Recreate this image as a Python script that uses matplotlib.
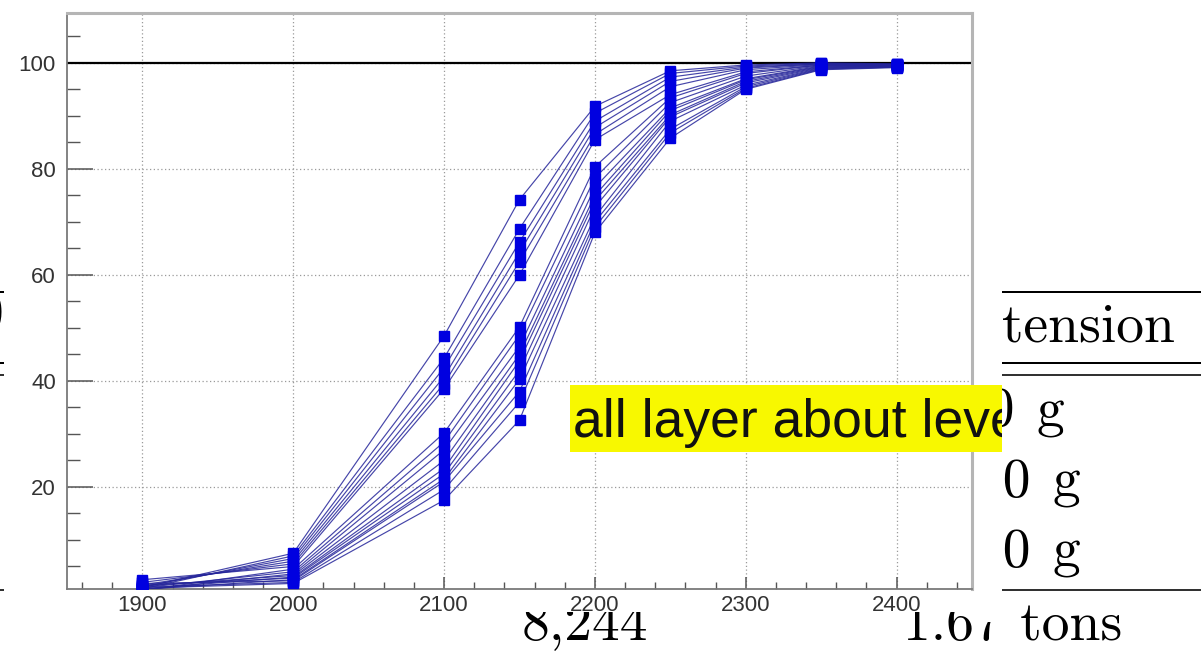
import matplotlib
matplotlib.use("Agg")
import matplotlib.pyplot as plt
from matplotlib.patches import Rectangle
from matplotlib.ticker import MultipleLocator, FixedLocator

plt.rcParams["font.family"] = ["Liberation Sans", "DejaVu Sans"]

# ---------------- data ----------------
voltages = [1900, 2000, 2100, 2150, 2200, 2250, 2300, 2350, 2400]

u1 = [1.0, 7.5, 48.5, 74.2, 91.8, 98.5, 99.6, 100.0, 99.8]
u2 = [0.8, 7.0, 44.3, 68.7, 90.5, 98.0, 99.4, 99.9, 99.7]
u3 = [1.2, 6.5, 42.5, 66.2, 89.0, 97.3, 99.2, 99.8, 99.7]
u4 = [1.5, 6.0, 40.8, 64.3, 87.8, 96.5, 99.0, 99.8, 99.6]
u5 = [2.0, 5.5, 39.5, 62.5, 86.5, 95.5, 98.7, 99.7, 99.6]
u6 = [2.5, 5.0, 38.5, 60.0, 85.5, 94.0, 98.3, 99.6, 99.5]
l1 = [0.5, 4.5, 30.2, 50.2, 80.4, 93.4, 98.0, 99.6, 99.6]
l2 = [1.0, 4.0, 28.5, 48.7, 78.3, 92.5, 97.5, 99.5, 99.5]
l3 = [0.6, 3.6, 27.0, 46.5, 76.5, 91.5, 97.0, 99.4, 99.5]
l4 = [1.3, 3.3, 25.0, 45.0, 75.0, 91.0, 96.8, 99.3, 99.4]
l5 = [0.8, 3.0, 23.5, 43.8, 74.0, 90.2, 96.5, 99.2, 99.4]
l6 = [1.5, 2.8, 22.5, 42.0, 72.8, 89.8, 96.2, 99.1, 99.3]
l7 = [0.7, 2.5, 21.5, 40.3, 71.0, 89.0, 95.8, 99.0, 99.3]
l8 = [1.8, 2.3, 21.0, 38.0, 70.0, 87.5, 95.5, 98.9, 99.2]
l9 = [1.1, 2.0, 19.5, 36.0, 69.0, 86.8, 95.2, 98.8, 99.2]
l10 = [0.9, 1.8, 17.5, 32.6, 68.0, 85.8, 95.0, 98.7, 99.1]
series = [u1, u2, u3, u4, u5, u6, l1, l2, l3, l4, l5, l6, l7, l8, l9, l10]

x_ticks = [1900, 2000, 2100, 2200, 2300, 2400]
y_ticks = [20, 40, 60, 80, 100]
reference_level = 100

note_text = "all layer about level"
table_header = "tension"
table_row_numbers = ["50", "20", "20"]
table_unit = "g"
table_footer_left = "8,244"
table_footer_right = "1.67 tons"

# ---------------- figure ----------------
W, H = 1201, 652
fig = plt.figure(figsize=(W / 100, H / 100), dpi=100)
fig.patch.set_facecolor("white")


def frac(x0, y0, x1, y1):
    """pixel box (top-left origin) -> figure fraction rect"""
    return [x0 / W, 1 - y1 / H, (x1 - x0) / W, (y1 - y0) / H]


# ---- background table (behind the pasted plot) ----
tab = fig.add_axes([0, 0, 1, 1], zorder=0)
tab.set_xlim(0, W)
tab.set_ylim(H, 0)
tab.axis("off")
for yy, lw in [(292, 2.0), (363, 2.0), (375, 1.6), (590, 1.6)]:
    tab.plot([0, W], [yy, yy], color="black", lw=lw * 0.72, solid_capstyle="butt")
tfont = dict(family="cmr10", fontsize=40, color="black")
tab.text(1002, 342, table_header, ha="left", va="baseline", **tfont)
tab.text(4, 330, "0", ha="right", va="baseline", **tfont)
row_num_x = [959, 975, 975]
row_unit_x = [1037, 1052, 1052]
row_base = [426, 497, 567]
for num, nx, ux, yb in zip(table_row_numbers, row_num_x, row_unit_x, row_base):
    tab.text(nx, yb, num, ha="left", va="baseline", **tfont)
    tab.text(ux, yb, table_unit, ha="left", va="baseline", **tfont)
tab.text(522, 640, table_footer_left, ha="left", va="baseline", **tfont)
tab.text(903, 640, table_footer_right, ha="left", va="baseline", **tfont)
# white pasted image region
tab.add_patch(Rectangle((4, -2), 998, 614, facecolor="white", edgecolor="none", zorder=10))
tab.add_patch(Rectangle((976, 600), 24, 22, facecolor="white", edgecolor="none", zorder=10))

# ---- main plot ----
ax = fig.add_axes(frac(67, 13, 972, 589), zorder=1)
ax.set_facecolor("white")
for s in series:
    ax.plot(voltages, s, color="#25259a", lw=0.85, alpha=0.85, zorder=3)
for s in series:
    ax.plot(voltages, s, linestyle="none", marker="s", ms=6.5,
            markerfacecolor="#0000e0", markeredgecolor="#0000e0", zorder=4)
ax.axhline(reference_level, color="black", lw=1.6, zorder=2.5)

ax.set_xlim(1850, 2450)
ax.set_ylim(0.75, 109.4)
ax.xaxis.set_major_locator(FixedLocator(x_ticks))
ax.xaxis.set_minor_locator(MultipleLocator(20))
ax.yaxis.set_major_locator(FixedLocator(y_ticks))
ax.yaxis.set_minor_locator(MultipleLocator(5))
ax.grid(True, which="major", color="#9a9a9a", linestyle=(0, (1, 2)), lw=0.9, zorder=1)
ax.set_axisbelow(True)

ax.tick_params(axis="x", which="major", direction="in", length=8.5, width=1.1,
               color="#555555", labelsize=16, labelcolor="#333333", pad=4,
               top=False)
ax.tick_params(axis="x", which="minor", direction="in", length=5, width=1.0,
               color="#555555", top=False)
ax.tick_params(axis="y", which="major", direction="in", length=19, width=1.1,
               color="#555555", labelsize=16, labelcolor="#333333", pad=8,
               right=False)
ax.tick_params(axis="y", which="minor", direction="in", length=9.5, width=1.0,
               color="#555555", right=False)

ax.spines["left"].set_color("#7a7a7a")
ax.spines["left"].set_linewidth(1.3)
ax.spines["bottom"].set_color("#7a7a7a")
ax.spines["bottom"].set_linewidth(1.3)
ax.spines["top"].set_color("#b5b5b5")
ax.spines["top"].set_linewidth(2.2)
ax.spines["right"].set_color("#b5b5b5")
ax.spines["right"].set_linewidth(2.2)

# ---- overlay note (clipped at image edge) ----
ov = fig.add_axes(frac(4, 0, 1002, 612), zorder=2)
ov.set_xlim(4, 1002)
ov.set_ylim(612, 0)
ov.axis("off")
ov.patch.set_alpha(0)
ov.add_patch(Rectangle((570, 385), 460, 67, facecolor="#f8f800", edgecolor="none",
                       clip_on=True))
ov.text(573, 437, note_text, ha="left", va="baseline", family="Liberation Sans",
        fontsize=38.5, color="#111111", clip_on=True)

fig.savefig("out.png", dpi=100, facecolor="white")
